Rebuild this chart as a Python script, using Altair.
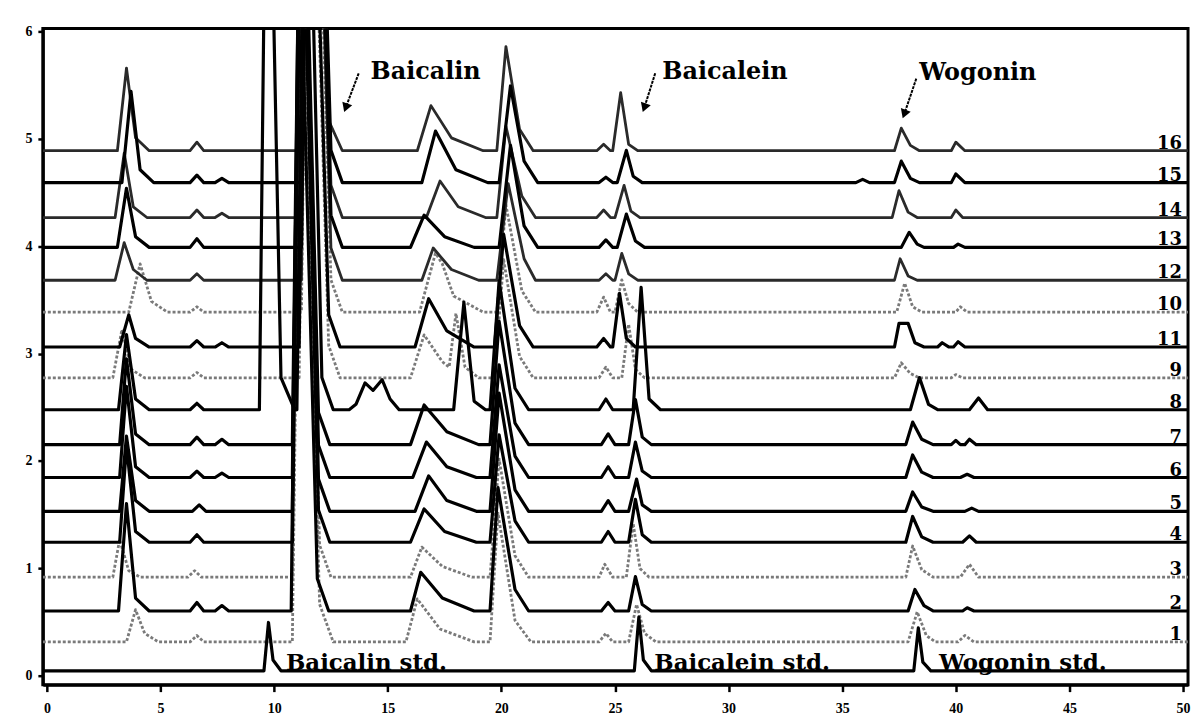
import altair as alt
import pandas as pd

# ---------------- data ----------------
TIME_TICKS = [0, 5, 10, 15, 20, 25, 30, 35, 40, 45, 50]
Y_TICKS = [0, 1, 2, 3, 4, 5, 6]

# stacking order bottom -> top, and each trace's baseline level (y units)
TRACE_ORDER = ["std", "1", "2", "3", "4", "5", "6", "7", "8", "9",
               "11", "10", "12", "13", "14", "15", "16"]
BASELINES = [0.046, 0.315, 0.603, 0.918, 1.243, 1.531, 1.846, 2.152, 2.477,
             2.774, 3.061, 3.386, 3.683, 3.989, 4.267, 4.592, 4.889]

GRAY_DOTTED = ["1", "3", "9", "10"]
DARK_GRAY = ["12", "14", "16"]

# digitised vertices (retention time, height above the trace baseline)
PEAKS = {
    "std": [(9.55, 0), (9.75, 0.45), (9.95, 0.10), (10.3, 0),
            (25.85, 0), (26.05, 0.50), (26.25, 0.10), (26.6, 0),
            (38.15, 0), (38.35, 0.40), (38.55, 0.08), (38.9, 0)],
    "1": [(3.5, 0), (3.9, 0.30), (4.3, 0.08), (4.9, 0),
          (6.3, 0), (6.6, 0.06), (6.9, 0),
          (10.8, 0), (11.2, 6.6), (12.0, 0.35), (12.6, 0),
          (15.8, 0), (16.3, 0.40), (17.3, 0.12), (18.8, 0),
          (19.5, 0), (19.85, 1.2), (20.6, 0.2), (21.3, 0),
          (24.3, 0), (24.6, 0.08), (24.9, 0),
          (25.6, 0), (25.95, 0.35), (26.3, 0.08), (26.8, 0),
          (37.9, 0), (38.3, 0.28), (38.7, 0.06), (39.1, 0),
          (40.1, 0), (40.4, 0.06), (40.8, 0)],
    "2": [(3.15, 0), (3.5, 1.0), (3.9, 0.12), (4.5, 0),
          (6.3, 0), (6.6, 0.08), (6.9, 0),
          (7.4, 0), (7.7, 0.05), (8.0, 0),
          (10.75, 0), (11.1, 6.6), (11.9, 0.3), (12.4, 0),
          (16.0, 0), (16.45, 0.36), (17.4, 0.12), (18.8, 0),
          (19.5, 0), (19.85, 1.15), (20.6, 0.2), (21.2, 0),
          (24.4, 0), (24.7, 0.08), (25.0, 0),
          (25.6, 0), (25.9, 0.32), (26.2, 0.06), (26.6, 0),
          (37.9, 0), (38.2, 0.20), (38.6, 0.05), (39.0, 0),
          (40.3, 0), (40.5, 0.03), (40.8, 0)],
    "3": [(2.9, 0), (3.2, 0.35), (3.6, 0.06), (4.1, 0),
          (6.2, 0), (6.5, 0.06), (6.8, 0),
          (10.8, 0), (11.2, 6.6), (12.0, 0.3), (12.5, 0),
          (16.0, 0), (16.5, 0.28), (17.4, 0.1), (18.7, 0),
          (19.5, 0), (19.9, 1.1), (20.6, 0.2), (21.2, 0),
          (24.3, 0), (24.55, 0.12), (24.9, 0),
          (25.5, 0), (25.8, 0.5), (26.1, 0.08), (26.5, 0),
          (37.8, 0), (38.1, 0.29), (38.5, 0.07), (39.0, 0),
          (40.2, 0), (40.6, 0.12), (41.0, 0)],
    "4": [(3.2, 0), (3.5, 0.9), (3.9, 0.1), (4.5, 0),
          (6.3, 0), (6.6, 0.07), (6.9, 0),
          (10.8, 0), (11.2, 6.6), (11.95, 0.3), (12.45, 0),
          (16.0, 0), (16.6, 0.31), (17.5, 0.1), (18.9, 0),
          (19.5, 0), (19.9, 1.0), (20.6, 0.2), (21.2, 0),
          (24.4, 0), (24.7, 0.1), (25.0, 0),
          (25.6, 0), (25.9, 0.4), (26.2, 0.07), (26.6, 0),
          (37.8, 0), (38.1, 0.24), (38.5, 0.05), (39.0, 0),
          (40.3, 0), (40.6, 0.06), (40.9, 0)],
    "5": [(3.2, 0), (3.5, 0.7), (3.9, 0.1), (4.5, 0),
          (6.4, 0), (6.7, 0.06), (7.0, 0),
          (10.8, 0), (11.2, 6.6), (11.95, 0.3), (12.45, 0),
          (16.2, 0), (16.8, 0.33), (17.6, 0.1), (18.9, 0),
          (19.5, 0), (19.9, 1.1), (20.6, 0.2), (21.2, 0),
          (24.4, 0), (24.7, 0.1), (25.0, 0),
          (25.6, 0), (25.95, 0.3), (26.2, 0.06), (26.6, 0),
          (37.8, 0), (38.1, 0.18), (38.5, 0.04), (39.0, 0),
          (40.4, 0), (40.7, 0.03), (41.0, 0)],
    "6": [(3.2, 0), (3.5, 0.85), (3.9, 0.1), (4.5, 0),
          (6.3, 0), (6.6, 0.06), (6.9, 0),
          (7.4, 0), (7.7, 0.04), (8.0, 0),
          (10.8, 0), (11.2, 6.6), (11.95, 0.3), (12.45, 0),
          (16.1, 0), (16.7, 0.33), (17.6, 0.1), (18.9, 0),
          (19.5, 0), (19.9, 1.05), (20.6, 0.2), (21.2, 0),
          (24.4, 0), (24.7, 0.1), (25.0, 0),
          (25.6, 0), (25.9, 0.33), (26.2, 0.06), (26.6, 0),
          (37.8, 0), (38.1, 0.21), (38.5, 0.05), (39.0, 0),
          (40.2, 0), (40.5, 0.03), (40.8, 0)],
    "7": [(3.2, 0), (3.5, 0.8), (3.9, 0.1), (4.5, 0),
          (6.3, 0), (6.6, 0.07), (6.9, 0),
          (7.4, 0), (7.7, 0.05), (8.0, 0),
          (10.8, 0), (11.2, 6.6), (11.95, 0.3), (12.45, 0),
          (16.0, 0), (16.6, 0.37), (17.6, 0.12), (19.0, 0),
          (19.5, 0), (19.9, 1.15), (20.6, 0.2), (21.2, 0),
          (24.4, 0), (24.7, 0.1), (25.0, 0),
          (25.6, 0), (25.9, 0.42), (26.2, 0.07), (26.6, 0),
          (37.8, 0), (38.1, 0.21), (38.5, 0.05), (39.0, 0),
          (39.8, 0), (40.0, 0.04), (40.2, 0),
          (40.4, 0), (40.6, 0.05), (40.9, 0)],
    "8": [(3.15, 0), (3.5, 0.7), (3.9, 0.1), (4.5, 0),
          (6.3, 0), (6.6, 0.06), (6.9, 0),
          (9.35, 0), (9.7, 6.6), (10.3, 0.3), (10.9, 0),
          (11.0, 0), (11.4, 6.6), (12.1, 0.3), (12.6, 0),
          (13.3, 0), (13.6, 0.05), (14.0, 0.25), (14.35, 0.18),
          (14.75, 0.28), (15.1, 0.1), (15.5, 0),
          (17.9, 0), (18.35, 1.0), (18.8, 0.08), (19.3, 0),
          (19.5, 0), (19.9, 1.2), (20.6, 0.2), (21.2, 0),
          (24.3, 0), (24.6, 0.1), (24.9, 0),
          (25.8, 0), (26.15, 1.14), (26.5, 0.1), (27.0, 0),
          (38.0, 0), (38.4, 0.30), (38.8, 0.05), (39.2, 0),
          (40.6, 0), (41.0, 0.11), (41.4, 0)],
    "9": [(2.9, 0), (3.3, 0.45), (3.7, 0.08), (4.3, 0),
          (6.3, 0), (6.6, 0.05), (6.9, 0),
          (11.1, 0), (11.5, 6.6), (12.4, 0.3), (12.9, 0),
          (16.0, 0), (16.6, 0.40), (17.4, 0.15), (17.7, 0.1),
          (18.0, 0.6), (18.4, 0.1), (19.0, 0),
          (19.7, 0), (20.1, 1.1), (20.8, 0.2), (21.4, 0),
          (24.3, 0), (24.6, 0.1), (24.9, 0),
          (25.3, 0), (25.6, 0.5), (25.9, 0.08), (26.3, 0),
          (37.3, 0), (37.6, 0.14), (38.0, 0.04), (38.4, 0),
          (39.8, 0), (40.0, 0.03), (40.3, 0)],
    "11": [(3.2, 0), (3.6, 0.3), (3.9, 0.08), (4.5, 0),
           (6.3, 0), (6.6, 0.06), (6.9, 0),
           (7.4, 0), (7.7, 0.04), (8.0, 0),
           (11.1, 0), (11.5, 6.6), (12.4, 0.3), (12.9, 0),
           (16.2, 0), (16.8, 0.45), (17.6, 0.15), (18.8, 0),
           (19.7, 0), (20.1, 1.05), (20.8, 0.2), (21.4, 0),
           (24.2, 0), (24.5, 0.08), (24.8, 0),
           (24.9, 0), (25.2, 0.5), (25.5, 0.08), (25.9, 0),
           (37.3, 0), (37.5, 0.22), (37.9, 0.22), (38.2, 0.04), (38.6, 0),
           (39.2, 0), (39.4, 0.04), (39.7, 0),
           (39.9, 0), (40.1, 0.05), (40.4, 0)],
    "10": [(3.6, 0), (4.1, 0.45), (4.6, 0.1), (5.3, 0),
           (6.3, 0), (6.6, 0.05), (6.9, 0),
           (11.2, 0), (11.6, 6.6), (12.5, 0.3), (13.0, 0),
           (16.4, 0), (17.1, 0.55), (17.4, 0.45), (17.9, 0.15), (19.2, 0),
           (19.8, 0), (20.2, 1.0), (20.9, 0.2), (21.5, 0),
           (24.2, 0), (24.5, 0.14), (24.8, 0),
           (25.0, 0), (25.3, 0.3), (25.6, 0.08), (26.0, 0),
           (37.4, 0), (37.75, 0.27), (38.1, 0.05), (38.5, 0),
           (40.0, 0), (40.2, 0.05), (40.5, 0)],
    "12": [(3.0, 0), (3.4, 0.35), (3.8, 0.1), (4.4, 0),
           (6.3, 0), (6.6, 0.06), (6.9, 0),
           (11.2, 0), (11.6, 6.6), (12.5, 0.3), (13.0, 0),
           (16.5, 0), (17.0, 0.30), (17.8, 0.1), (19.0, 0),
           (19.8, 0), (20.3, 0.9), (21.0, 0.2), (21.5, 0),
           (24.3, 0), (24.6, 0.06), (24.9, 0),
           (25.0, 0), (25.3, 0.25), (25.6, 0.06), (26.0, 0),
           (37.3, 0), (37.55, 0.20), (37.9, 0.04), (38.3, 0)],
    "13": [(3.1, 0), (3.5, 0.55), (3.9, 0.1), (4.5, 0),
           (6.3, 0), (6.6, 0.08), (6.9, 0),
           (11.2, 0), (11.6, 6.6), (12.5, 0.3), (13.0, 0),
           (16.0, 0), (16.6, 0.30), (17.5, 0.1), (18.8, 0),
           (19.9, 0), (20.4, 0.95), (21.0, 0.2), (21.6, 0),
           (24.3, 0), (24.6, 0.07), (24.9, 0),
           (25.1, 0), (25.5, 0.31), (25.9, 0.06), (26.3, 0),
           (37.6, 0), (37.95, 0.14), (38.3, 0.03), (38.6, 0),
           (39.9, 0), (40.1, 0.03), (40.4, 0)],
    "14": [(3.0, 0), (3.4, 0.6), (3.8, 0.1), (4.4, 0),
           (6.3, 0), (6.6, 0.07), (6.9, 0),
           (7.4, 0), (7.7, 0.04), (8.0, 0),
           (11.2, 0), (11.6, 6.6), (12.5, 0.3), (13.0, 0),
           (16.7, 0), (17.3, 0.34), (18.1, 0.1), (19.3, 0),
           (19.8, 0), (20.2, 0.85), (20.9, 0.2), (21.5, 0),
           (24.2, 0), (24.5, 0.07), (24.8, 0),
           (25.0, 0), (25.4, 0.3), (25.7, 0.06), (26.1, 0),
           (37.2, 0), (37.5, 0.25), (37.9, 0.05), (38.3, 0),
           (39.8, 0), (40.0, 0.07), (40.3, 0)],
    "15": [(3.3, 0), (3.7, 0.85), (4.1, 0.12), (4.7, 0),
           (6.3, 0), (6.6, 0.07), (6.9, 0),
           (7.4, 0), (7.7, 0.04), (8.0, 0),
           (11.2, 0), (11.6, 6.6), (12.5, 0.3), (13.0, 0),
           (16.5, 0), (17.1, 0.48), (18.0, 0.12), (19.4, 0),
           (19.9, 0), (20.4, 0.9), (21.0, 0.2), (21.6, 0),
           (24.3, 0), (24.6, 0.05), (24.9, 0),
           (25.1, 0), (25.5, 0.3), (25.8, 0.06), (26.2, 0),
           (35.6, 0), (35.9, 0.03), (36.2, 0),
           (37.3, 0), (37.6, 0.20), (38.0, 0.04), (38.4, 0),
           (39.8, 0), (40.0, 0.08), (40.4, 0)],
    "16": [(3.1, 0), (3.5, 0.77), (3.9, 0.12), (4.5, 0),
           (6.3, 0), (6.6, 0.08), (6.9, 0),
           (11.2, 0), (11.6, 6.6), (12.4, 0.28), (13.0, 0),
           (16.3, 0), (16.9, 0.42), (17.8, 0.12), (19.2, 0),
           (19.8, 0), (20.2, 0.97), (20.8, 0.2), (21.4, 0),
           (24.2, 0), (24.5, 0.06), (24.8, 0),
           (24.9, 0), (25.25, 0.54), (25.6, 0.06), (26.0, 0),
           (37.3, 0), (37.6, 0.21), (38.0, 0.05), (38.4, 0),
           (39.8, 0), (40.0, 0.08), (40.4, 0)],
}

# annotations (text, time, y)
TOP_LABELS = ["Baicalin", "Baicalein", "Wogonin"]
TOP_T = [14.24, 27.08, 38.39]
TOP_Y = [5.56, 5.56, 5.55]
ARROW_T = [13.72, 26.77, 38.26]
ARROW_Y = [5.61, 5.61, 5.56]
ARROW_T2 = [13.15, 26.29, 37.73]
ARROW_Y2 = [5.29, 5.29, 5.23]
STD_LABELS = ["Baicalin std.", "Baicalein std.", "Wogonin std."]
STD_T = [10.52, 26.73, 39.26]

X_DOMAIN = [-0.18, 50.22]
Y_DOMAIN = [-0.083, 6.028]

# ---------------- build tables ----------------
rows = []
for name, base in zip(TRACE_ORDER, BASELINES):
    pts = [(X_DOMAIN[0], 0)] + PEAKS[name] + [(X_DOMAIN[1], 0)]
    style = "dotted" if name in GRAY_DOTTED else ("dark" if name in DARK_GRAY else "black")
    for i, (t, h) in enumerate(pts):
        rows.append({"trace": name, "i": i, "t": t, "y": base + h, "style": style})
df = pd.DataFrame(rows)

lab_df = pd.DataFrame({"label": [n for n in TRACE_ORDER if n != "std"],
                       "t": 49.95,
                       "y": [b for n, b in zip(TRACE_ORDER, BASELINES) if n != "std"]})
top_df = pd.DataFrame({"label": TOP_LABELS, "t": TOP_T, "y": TOP_Y})
arrow_df = pd.DataFrame({"t": ARROW_T, "y": ARROW_Y, "t2": ARROW_T2, "y2": ARROW_Y2})
std_df = pd.DataFrame({"label": STD_LABELS, "t": STD_T, "y": BASELINES[0]})

xs = alt.Scale(domain=X_DOMAIN, nice=False, zero=False)
ys = alt.Scale(domain=Y_DOMAIN, nice=False, zero=False)

X = alt.X("t:Q", scale=xs,
          axis=alt.Axis(values=TIME_TICKS, title=None, grid=False, tickSize=7,
                        tickWidth=2.5, tickColor="black", domainColor="black",
                        domainWidth=3, format="d", labelFont="Liberation Serif",
                        labelFontWeight="bold", labelFontSize=14, labelColor="black",
                        labelPadding=10))
Y = alt.Y("y:Q", scale=ys,
          axis=alt.Axis(values=Y_TICKS, title=None, grid=False, tickSize=5,
                        tickWidth=2.5, tickColor="black", domainColor="black",
                        domainWidth=3, format="d", labelFont="Liberation Serif",
                        labelFontWeight="bold", labelFontSize=14, labelColor="black",
                        labelPadding=6))

def trace_layer(style, color, width, dash=None):
    kw = dict(clip=True, color=color, strokeWidth=width, strokeJoin="round")
    if dash:
        kw["strokeDash"] = dash
    return alt.Chart(df[df["style"] == style]).mark_line(**kw).encode(
        x=X, y=Y, detail="trace:N", order="i:Q")

dotted = trace_layer("dotted", "#7a7a7a", 2.8, [3, 2])
dark = trace_layer("dark", "#2a2a2a", 2.8)
black = trace_layer("black", "black", 3.2)

x_plain = alt.X("t:Q", scale=xs)
y_plain = alt.Y("y:Q", scale=ys)

num_labels = alt.Chart(lab_df).mark_text(
    align="right", baseline="alphabetic", dy=-2, font="DejaVu Serif",
    fontWeight="bold", fontSize=18, color="black").encode(
    x=x_plain, y=y_plain, text="label:N")

top_text = alt.Chart(top_df).mark_text(
    align="left", baseline="alphabetic", font="DejaVu Serif", fontWeight="bold",
    fontSize=24, color="black").encode(x=x_plain, y=y_plain, text="label:N")

arrows = alt.Chart(arrow_df).mark_rule(color="black", strokeWidth=2, strokeDash=[3, 1]).encode(
    x=x_plain, y=y_plain, x2="t2:Q", y2="y2:Q")
heads = alt.Chart(arrow_df).mark_point(
    shape="triangle-down", filled=True, size=110, angle=20, color="black",
    opacity=1).encode(x=alt.X("t2:Q", scale=xs), y=alt.Y("y2:Q", scale=ys))

std_text = alt.Chart(std_df).mark_text(
    align="left", baseline="alphabetic", dy=-1, font="DejaVu Serif",
    fontWeight="bold", fontSize=23, color="black").encode(
    x=x_plain, y=y_plain, text="label:N")

chart = alt.layer(dotted, dark, black, num_labels, top_text, arrows, heads, std_text).properties(
    width=1150, height=659,
    autosize=alt.AutoSizeParams(type="none"),
    padding={"left": 35, "top": 19, "right": 6, "bottom": 34},
    background="white",
).configure_view(stroke="black", strokeWidth=3)

chart.save("out.html", embed_options={"renderer": "svg", "actions": False})
